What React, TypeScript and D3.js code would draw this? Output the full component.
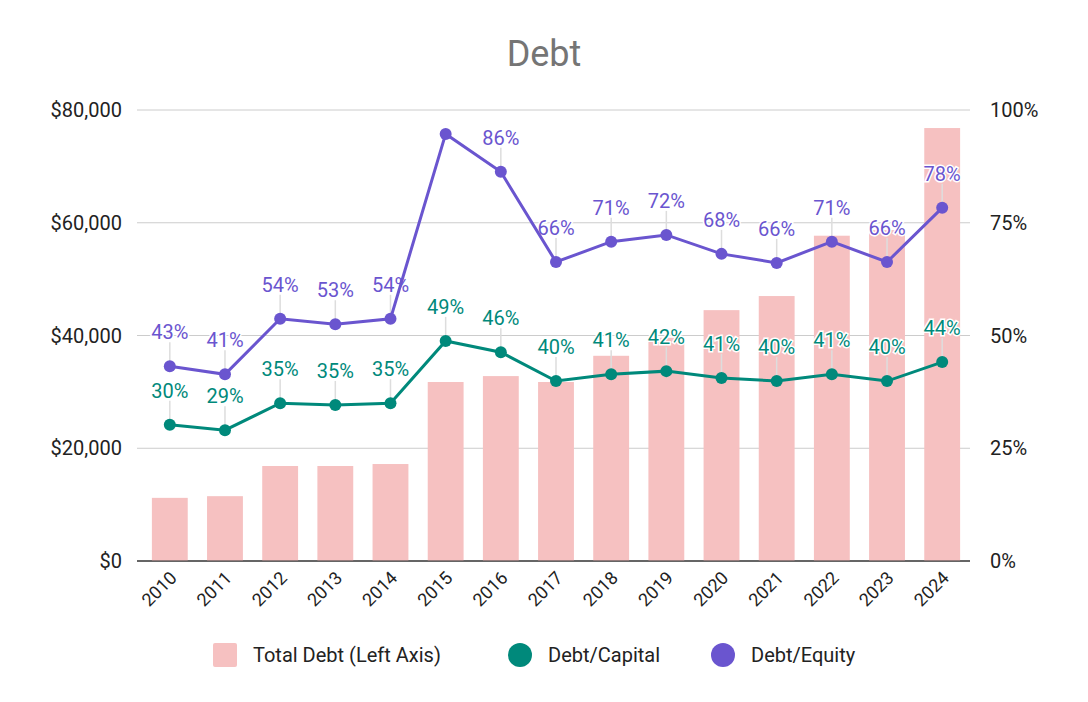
import React from "react";
import * as d3 from "d3";

const years = ["2010","2011","2012","2013","2014","2015","2016","2017","2018","2019","2020","2021","2022","2023","2024"];
const totalDebt = [11200,11500,16850,16850,17200,31750,32800,31750,36400,39600,44500,47000,57700,58700,76800];
const debtCapital = [30.2,29.0,35.0,34.6,35.0,48.8,46.3,39.9,41.4,42.1,40.6,39.9,41.4,39.9,44.1];
const debtEquity = [43.2,41.4,53.7,52.5,53.7,94.7,86.3,66.3,70.8,72.3,68.1,66.1,70.8,66.3,78.3];
const leftTicks = [0,20000,40000,60000,80000];
const rightTicks = [0,25,50,75,100];

const W = 1088, H = 702;
const L = 137, R = 970, T = 110, B = 561;
const FONT = "Roboto, Arial, sans-serif";
const TEAL = "#00897b", PURPLE = "#6a55cf", PINK = "#f6c1c1";

export default function App() {
  const x = d3.scaleBand().domain(years).range([142.5, 969.5]).paddingInner(0.35).paddingOuter(0.17);
  const yL = d3.scaleLinear().domain([0, 80000]).range([B, T]);
  const yR = d3.scaleLinear().domain([0, 100]).range([B, T]);
  const cx = (y: string) => (x(y) as number) + x.bandwidth() / 2;
  const line = d3.line<number>().x((_, i) => cx(years[i])).y(v => yR(v));
  const fmt = (v: number) => "$" + d3.format(",")(v);

  const labels = (vals: number[], color: string, skip: number[] = []) =>
    vals.map((v, i) => skip.includes(i) ? null : (
      <g key={color + i}>
        <line x1={cx(years[i])} x2={cx(years[i])} y1={yR(v) - 24} y2={yR(v)} stroke="#ddd" strokeWidth={1.5} />
        <text x={cx(years[i])} y={yR(v) - 27} textAnchor="middle" fontSize={20} fill={color}
          stroke="#fff" strokeWidth={3} paintOrder="stroke" fontFamily={FONT}>{Math.round(v)}%</text>
      </g>
    ));

  return (
    <svg width={W} height={H} style={{ display: "block", margin: -8 }} fontFamily={FONT}>
      <rect width={W} height={H} fill="#fff" />
      <text x={544} y={66} textAnchor="middle" fontSize={36} fill="#757575">Debt</text>
      {leftTicks.map(t => (
        <g key={t}>
          <line x1={L} x2={R} y1={yL(t)} y2={yL(t)} stroke={t === 0 ? "#333" : "#ccc"} strokeWidth={1} />
          <text x={122} y={yL(t) + 7} textAnchor="end" fontSize={20} fill="#222">{fmt(t)}</text>
        </g>
      ))}
      {rightTicks.map(t => (
        <text key={t} x={990} y={yR(t) + 7} fontSize={20} fill="#222">{t}%</text>
      ))}
      {totalDebt.map((v, i) => (
        <rect key={i} x={x(years[i])} y={yL(v)} width={x.bandwidth()} height={B - yL(v)} fill={PINK} />
      ))}
      <line x1={L} x2={R} y1={B} y2={B} stroke="#333" />
      {years.map(y => (
        <text key={y} transform={`translate(${cx(y) + 8},${B + 18}) rotate(-45)`} textAnchor="end" fontSize={18} fill="#222">{y}</text>
      ))}
      {labels(debtCapital, TEAL)}
      {labels(debtEquity, PURPLE, [5])}
      <path d={line(debtCapital) as string} fill="none" stroke={TEAL} strokeWidth={3} />
      <path d={line(debtEquity) as string} fill="none" stroke={PURPLE} strokeWidth={3} />
      {debtCapital.map((v, i) => <circle key={"c" + i} cx={cx(years[i])} cy={yR(v)} r={6} fill={TEAL} />)}
      {debtEquity.map((v, i) => <circle key={"e" + i} cx={cx(years[i])} cy={yR(v)} r={6} fill={PURPLE} />)}
      <g fontSize={20} fill="#222">
        <rect x={213} y={643} width={24} height={24} rx={2} fill={PINK} />
        <text x={253} y={662}>Total Debt (Left Axis)</text>
        <circle cx={520} cy={655} r={12} fill={TEAL} />
        <text x={548} y={662}>Debt/Capital</text>
        <circle cx={723} cy={655} r={12} fill={PURPLE} />
        <text x={751} y={662}>Debt/Equity</text>
      </g>
    </svg>
  );
}
